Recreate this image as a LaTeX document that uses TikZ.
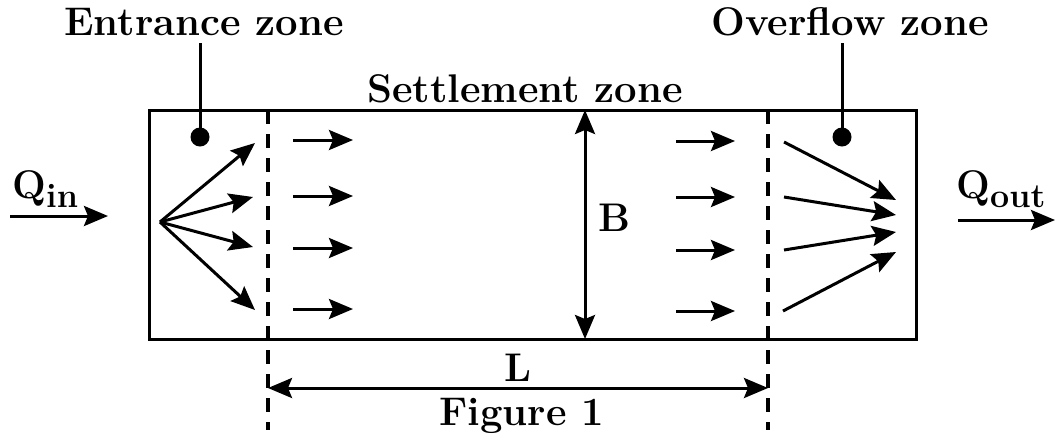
\documentclass[tikz,border=0pt]{standalone}
\usetikzlibrary{arrows.meta}
\begin{document}
\begin{tikzpicture}[x=0.5pt,y=0.5pt,
    flow/.style={line width=1.5pt,-{Stealth[length=12pt,width=10pt,inset=2pt]}},
    dim/.style={line width=1.5pt,{Stealth[length=12pt,width=10pt,inset=2pt]}-{Stealth[length=12pt,width=10pt,inset=2pt]}},
    divider/.style={line width=2pt,dash pattern=on 7pt off 5pt},
    lbl/.style={font=\fontsize{20}{24}\selectfont\bfseries}]
  \useasboundingbox (0,0) rectangle (1058,436);
  % Tank outline
  \draw[line width=1.5pt] (149,97) rectangle (916,326);
  % Zone dividers
  \draw[divider] (268,326) -- (268,6);
  \draw[divider] (768,326) -- (768,6);
  % Zone labels with leader lines
  \node[lbl,anchor=base] (entr) at (204,401) {Entrance zone};
  \node[lbl,anchor=base] (over) at (850,401) {Overflow zone};
  \node[lbl,anchor=base] (sett) at (525,334) {Settlement zone};
  \coordinate (entrdot) at (200,299);
  \coordinate (overdot) at (842,299);
  \draw[line width=1.5pt] (entrdot) -- (entrdot |- 0,393);
  \draw[line width=1.5pt] (overdot) -- (overdot |- 0,393);
  \fill (entrdot) circle (9.5);
  \fill (overdot) circle (9.5);
  % Inflow and outflow
  \draw[flow] (10,220) -- (108,220);
  \node[lbl,anchor=base west,inner sep=0pt] (qin) at (12,238)
    {Q\raisebox{-4.5pt}{\fontsize{17}{20}\selectfont in}};
  \draw[flow] (958,216) -- (1055,216);
  \node[lbl,anchor=base west,inner sep=0pt] (qout) at (956,238)
    {Q\raisebox{-4.5pt}{\fontsize{17}{20}\selectfont out}};
  % Entrance fan
  \coordinate (src) at (160,214);
  \draw[flow] (src) -- (255,293);
  \draw[flow] (src) -- (253,239);
  \draw[flow] (src) -- (253,189);
  \draw[flow] (src) -- (255,126);
  % Settlement arrows
  \foreach \y in {296,240,188,127} {
    \draw[flow] (293,\y) -- (353,\y);
  }
  \foreach \y in {295,239,186,125} {
    \draw[flow] (676,\y) -- (735,\y);
  }
  % Overflow fan
  \draw[flow] (784,294) -- (896,236);
  \draw[flow] (784,239) -- (896,221);
  \draw[flow] (784,186) -- (896,204);
  \draw[flow] (783,125) -- (896,184);
  % Dimensions
  \draw[dim] (585,97) -- (585,326);
  \node[lbl] (bw) at (614,218) {B};
  \draw[dim] (268,48) -- node[lbl,above=-1pt] (len) {L} (768,48);
  % Caption
  \node[lbl] (cap) at (522,20) {Figure 1};
\end{tikzpicture}
\end{document}
